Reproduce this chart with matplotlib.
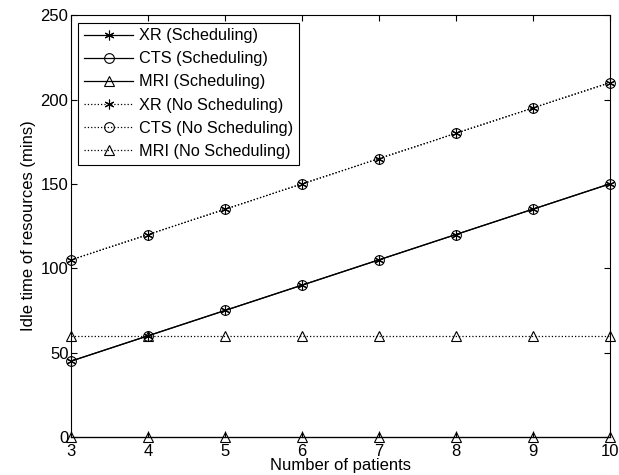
import numpy as np
import matplotlib
matplotlib.use("Agg")
import matplotlib.pyplot as plt

plt.rcParams["font.family"] = ["Liberation Sans", "DejaVu Sans"]
plt.rcParams["font.size"] = 12

# ── Data ───────────────────────────────────────────────────────────────────
patients = [3, 4, 5, 6, 7, 8, 9, 10]
xr_sched = [45, 60, 75, 90, 105, 120, 135, 150]
cts_sched = [45, 60, 75, 90, 105, 120, 135, 150]
mri_sched = [0, 0, 0, 0, 0, 0, 0, 0]
xr_nosched = [105, 120, 135, 150, 165, 180, 195, 210]
cts_nosched = [105, 120, 135, 150, 165, 180, 195, 210]
mri_nosched = [60, 60, 60, 60, 60, 60, 60, 60]

fig = plt.figure(figsize=(6.19, 4.75), dpi=100)
ax = fig.add_axes([0.115, 0.08, 0.87, 0.888])

asterisk = (6, 2, 0)
mk = dict(color="black", lw=0.9, markersize=7, markerfacecolor="none",
          markeredgewidth=0.8, clip_on=False)
ax.plot(patients, xr_sched, "-", marker=asterisk, label="XR (Scheduling)", **mk)
ax.plot(patients, cts_sched, "-", marker="o", label="CTS (Scheduling)", **mk)
ax.plot(patients, mri_sched, "-", marker="^", label="MRI (Scheduling)", **mk)
ax.plot(patients, xr_nosched, ":", marker=asterisk, label="XR (No Scheduling)", **mk)
ax.plot(patients, cts_nosched, ":", marker="o", label="CTS (No Scheduling)", **mk)
ax.plot(patients, mri_nosched, ":", marker="^", label="MRI (No Scheduling)", **mk)

ax.set_xlim(3, 10)
ax.set_ylim(0, 250)
ax.set_xticks(patients)
ax.set_yticks([0, 50, 100, 150, 200, 250])
ax.tick_params(direction="in", top=True, right=True, length=4)
ax.tick_params(axis="x", pad=5)
ax.tick_params(axis="y", pad=2)
for s in ax.spines.values():
    s.set_linewidth(0.8)
ax.set_xlabel("Number of patients", labelpad=-1)
ax.set_ylabel("Idle time of resources (mins)", labelpad=3)

leg = ax.legend(loc="upper left", fancybox=False, framealpha=1,
                edgecolor="black", borderaxespad=0.45, handlelength=3.0,
                handletextpad=0.4, labelspacing=0.5, fontsize=11.7,
                borderpad=0.35)
leg.get_frame().set_linewidth(0.8)

plt.savefig("out.png", dpi=100)
